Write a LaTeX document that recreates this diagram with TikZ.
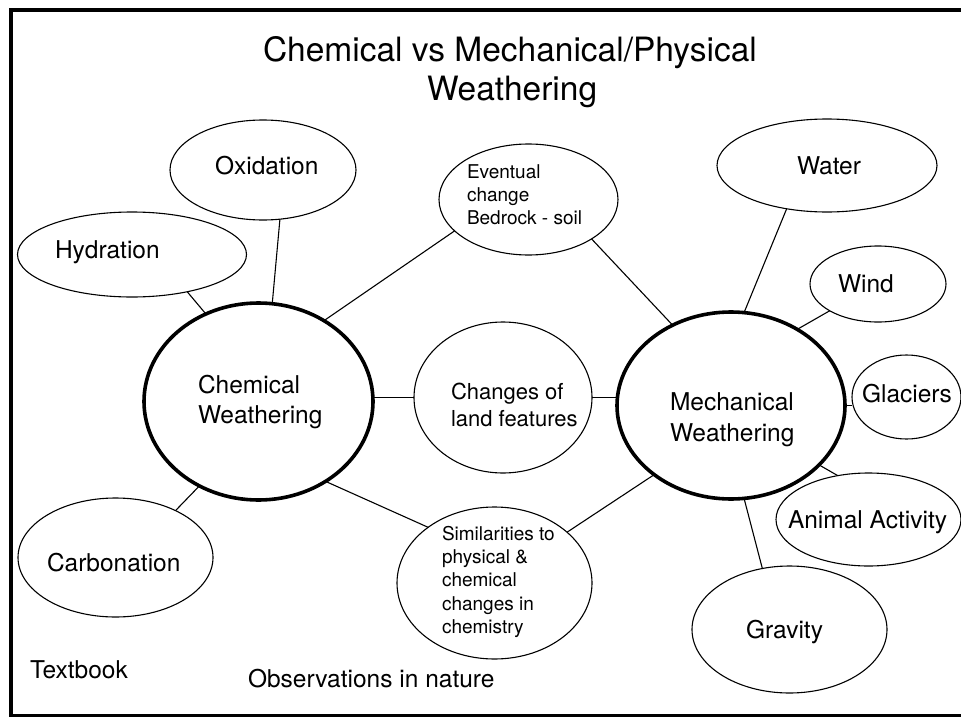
\documentclass[tikz,border=0pt]{standalone}
\usepackage{fontspec}
\setmainfont{TeX Gyre Heros}
\usetikzlibrary{shapes.geometric}
\tikzset{
  ell/.style={draw=black, ellipse, inner sep=0pt, outer sep=0pt, line width=1.1pt},
  bigell/.style={ell, line width=3.6pt},
  conn/.style={draw=black, line width=1.1pt},
  lbl/.style={anchor=base west, inner sep=0pt, outer sep=0pt, font=\fontsize{24.5}{29}\selectfont},
  lblmid/.style={anchor=base west, inner sep=0pt, outer sep=0pt, font=\fontsize{22}{27}\selectfont},
  lblsm/.style={anchor=base west, inner sep=0pt, outer sep=0pt, font=\fontsize{19}{23}\selectfont},
  ttl/.style={anchor=base west, inner sep=0pt, outer sep=0pt, font=\fontsize{33.5}{38}\selectfont}
}
\begin{document}
\begin{tikzpicture}[x=1pt, y=-1pt]
\useasboundingbox (0,0) rectangle (961,717);
% frame
\draw[line width=4pt] (975,10) -- (10.5,10) -- (10.5,716) -- (975,716);
% title
\node[ttl] (t1) at (263,62) {Chemical vs Mechanical/Physical};
\node[ttl] (t2) at (427,100) {Weathering};
% ellipses
\node[ell, minimum width=186, minimum height=100] (ox) at (263,170) {};
\node[ell, minimum width=229, minimum height=85] (hyd) at (132,254.5) {};
\node[bigell, minimum width=229, minimum height=197] (chem) at (258.5,401.5) {};
\node[ell, minimum width=179, minimum height=111] (ev) at (528.5,199.5) {};
\node[ell, minimum width=178, minimum height=151] (chg) at (503,397.5) {};
\node[ell, minimum width=195, minimum height=152] (sim) at (494.5,583) {};
\node[bigell, minimum width=228, minimum height=187] (mech) at (731,405.5) {};
\node[ell, minimum width=220, minimum height=93] (wat) at (827,165.5) {};
\node[ell, minimum width=136, minimum height=76] (wind) at (878,284) {};
\node[ell, minimum width=109, minimum height=84] (gla) at (906.5,397) {};
\node[ell, minimum width=185, minimum height=93] (anim) at (868.5,519.5) {};
\node[ell, minimum width=195, minimum height=127] (grav) at (789.5,629.5) {};
\node[ell, minimum width=195, minimum height=119] (carb) at (115.5,557.5) {};
% labels
\node[lbl] (tox) at (215,174) {Oxidation};
\node[lbl] (thyd) at (55,258) {Hydration};
\node[lbl] (tchem1) at (198,393) {Chemical};
\node[lbl] (tchem2) at (198,423) {Weathering};
\node[lblsm] (tev1) at (467,178.3) {Eventual};
\node[lblsm] (tev2) at (467,201.5) {change};
\node[lblsm] (tev3) at (467,224.5) {Bedrock - soil};
\node[lblmid] (tchg1) at (451,399) {Changes of};
\node[lblmid] (tchg2) at (451,426) {land features};
\node[lblsm] (tsim1) at (442,540) {Similarities to};
\node[lblsm] (tsim2) at (442,563.3) {physical \&};
\node[lblsm] (tsim3) at (442,586.6) {chemical};
\node[lblsm] (tsim4) at (442,610) {changes in};
\node[lblsm] (tsim5) at (442,633) {chemistry};
\node[lbl] (tmech1) at (670,410) {Mechanical};
\node[lbl] (tmech2) at (670,441) {Weathering};
\node[lbl] (twat) at (797,174) {Water};
\node[lbl] (twind) at (838,292) {Wind};
\node[lbl] (tgla) at (862,402) {Glaciers};
\node[lbl] (tanim) at (788,528) {Animal Activity};
\node[lbl] (tgrav) at (746,638) {Gravity};
\node[lbl] (tcarb) at (47,571) {Carbonation};
\node[lbl] (ttext) at (30,678) {Textbook};
\node[lbl] (tobs) at (248,687) {Observations in nature};
% connectors
\draw[conn] (ox.-71.6) -- (chem.82.2);
\draw[conn] (hyd.-34.9) -- (chem.121.6);
\draw[conn] (ev.203.2) -- (chem.51.5);
\draw[conn] (ev.-32.4) -- (mech.126.7);
\draw[conn] (chg.west) -- (chg.west -| chem.east);
\draw[conn] (chg.east) -- (chg.east -| mech.west);
\draw[conn] (chem.-50.8) -- (sim.140.5);
\draw[conn] (sim.35.6) -- (mech.222.5);
\draw[conn] (carb.38.1) -- (chem.235.1);
\draw[conn] (wat.227.9) -- (mech.82.7);
\draw[conn] (wind.209.6) -- (mech.49.2);
\draw[conn] (mech.east) -- (mech.east -| gla.west);
\draw[conn] (anim.125.8) -- (mech.-34.2);
\draw[conn] (grav.114.9) -- (mech.-82.8);
\end{tikzpicture}
\end{document}
